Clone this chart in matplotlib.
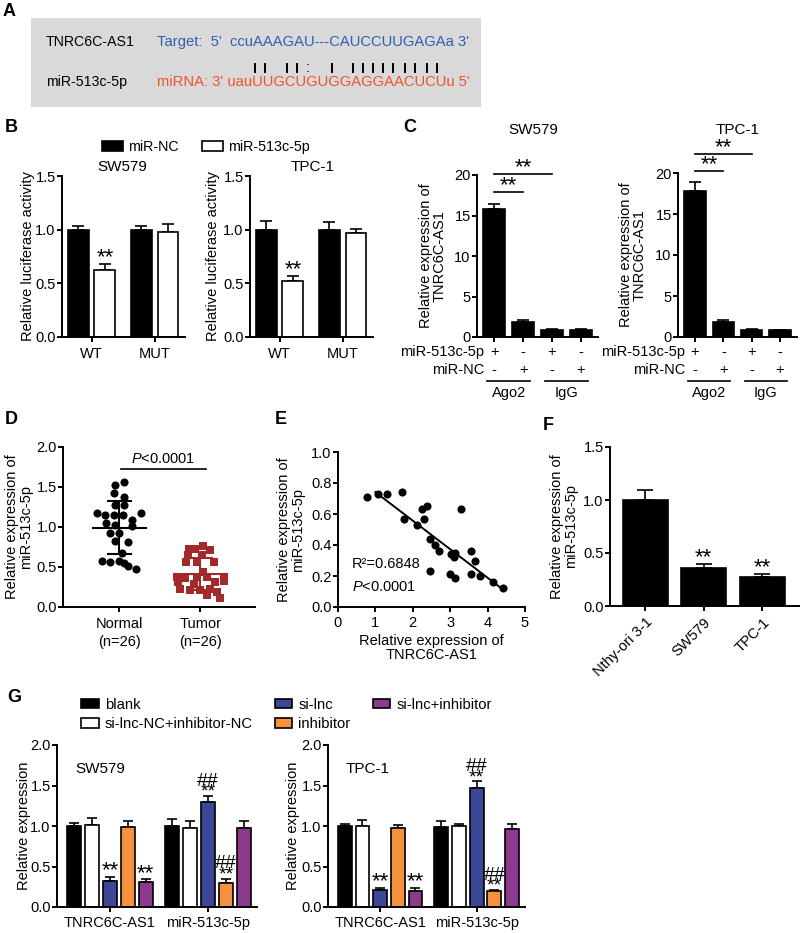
import numpy as np
import matplotlib
matplotlib.use('Agg')
import matplotlib.pyplot as plt
from matplotlib.patches import Patch, Rectangle
from matplotlib.lines import Line2D
import matplotlib.transforms as mtrans

plt.rcParams['font.family'] = ['Liberation Sans', 'DejaVu Sans']
plt.rcParams['font.size'] = 10.5
plt.rcParams['mathtext.fontset'] = 'custom'
plt.rcParams['mathtext.rm'] = 'Liberation Sans'
plt.rcParams['mathtext.it'] = 'Liberation Sans:italic'

# ---------------- data ----------------
# B: luciferase reporter
b_groups = ['WT', 'MUT']
b_sw_nc = [1.0, 1.0]
b_sw_nc_err = [0.03, 0.03]
b_sw_mir = [0.62, 0.98]
b_sw_mir_err = [0.06, 0.07]
b_tpc_nc = [1.0, 1.0]
b_tpc_nc_err = [0.08, 0.07]
b_tpc_mir = [0.52, 0.97]
b_tpc_mir_err = [0.05, 0.04]

# C: RIP assay
c_sw = [15.8, 1.9, 0.9, 0.9]
c_sw_err = [0.6, 0.2, 0.05, 0.05]
c_tpc = [17.8, 1.8, 0.9, 0.85]
c_tpc_err = [1.1, 0.3, 0.05, 0.05]
c_mir513 = ['+', '-', '+', '-']
c_mirnc = ['-', '+', '-', '+']
c_ip = ['Ago2', 'IgG']

# D: tissue expression (jitter offsets)
d_normal = [1.56, 1.52, 1.42, 1.38, 1.28, 1.27, 1.17, 1.15, 1.15, 1.15, 1.18, 1.09, 1.05,
            1.03, 1.01, 0.93, 0.92, 0.81, 0.83, 0.67, 0.58, 0.56, 0.57, 0.55, 0.51, 0.47]
d_normal_dx = [0.05, -0.06, -0.07, 0.05, -0.05, 0.05, -0.28, -0.18, -0.07, 0.04, 0.27, 0.15, -0.17,
               -0.05, 0.15, -0.12, 0.0, 0.11, -0.05, 0.03, -0.22, -0.12, -0.01, 0.05, 0.11, 0.21]
d_tumor = [0.76, 0.72, 0.72, 0.71, 0.65, 0.65, 0.56, 0.56, 0.56, 0.44, 0.375, 0.36, 0.37,
           0.375, 0.375, 0.31, 0.29, 0.31, 0.33, 0.23, 0.21, 0.21, 0.22, 0.19, 0.15, 0.11]
d_tumor_dx = [0.03, -0.06, -0.14, 0.12, -0.15, 0.02, -0.17, -0.04, 0.17, 0.04, -0.29, -0.19, -0.04,
              0.08, 0.29, -0.27, -0.08, 0.19, 0.29, -0.25, -0.12, 0.0, 0.12, 0.21, 0.08, 0.24]
d_labels = ['Normal\n(n=26)', 'Tumor\n(n=26)']

# E: correlation
e_lnc = [0.77, 1.08, 1.31, 1.70, 3.28, 1.76, 2.10, 2.25, 2.38, 2.29, 2.47, 2.59, 2.69,
         3.03, 3.12, 3.09, 3.55, 3.65, 2.47, 2.99, 3.12, 3.56, 3.79, 4.14, 4.41]
e_mir = [0.71, 0.73, 0.73, 0.74, 0.63, 0.57, 0.53, 0.63, 0.65, 0.57, 0.44, 0.40, 0.36,
         0.34, 0.35, 0.32, 0.36, 0.30, 0.23, 0.21, 0.19, 0.21, 0.20, 0.16, 0.12]

# F: cell lines
f_cells = ['Nthy-ori 3-1', 'SW579', 'TPC-1']
f_vals = [1.0, 0.36, 0.27]
f_err = [0.09, 0.04, 0.03]

# G: rescue
g_groups = ['TNRC6C-AS1', 'miR-513c-5p']
g_conds = ['blank', 'si-lnc-NC+inhibitor-NC', 'si-lnc', 'inhibitor', 'si-lnc+inhibitor']
g_colors = ['black', 'white', '#3c4798', '#f5923e', '#8c3a8e']
g_sw = [[1.0, 1.01, 0.32, 0.99, 0.31], [1.0, 0.97, 1.30, 0.30, 0.97]]
g_sw_err = [[0.04, 0.09, 0.05, 0.07, 0.03], [0.09, 0.09, 0.07, 0.05, 0.09]]
g_tpc = [[1.0, 1.0, 0.21, 0.97, 0.20], [0.99, 1.0, 1.47, 0.20, 0.96]]
g_tpc_err = [[0.03, 0.08, 0.02, 0.04, 0.03], [0.07, 0.03, 0.08, 0.01, 0.07]]

# ---------------- helpers ----------------
W, H = 800, 933
fig = plt.figure(figsize=(W / 100, H / 100), dpi=100)


def fx(x):
    return x / W


def fy(y):
    return 1 - y / H


def add_ax(x0, x1, ytop, ybot):
    ax = fig.add_axes([fx(x0), fy(ybot), (x1 - x0) / W, (ybot - ytop) / H])
    for s in ['top', 'right']:
        ax.spines[s].set_visible(False)
    for s in ['left', 'bottom']:
        ax.spines[s].set_linewidth(1.4)
    ax.tick_params(direction='out', length=3.5, width=1.4, labelsize=10.5, pad=1)
    return ax


def ylab(ax, text, xpx):
    # xpx = right edge of the (rotated) label, in pixels
    pos = ax.get_position()
    ax.set_ylabel(text, fontsize=10.5, linespacing=1.0)
    ax.yaxis.set_label_coords((fx(xpx) - pos.x0) / pos.width, 0.5)


def ftext(x, y, s, **kw):
    fig.text(fx(x), fy(y), s, **kw)


def bars(ax, x, vals, errs, width, color, capsize=4):
    ax.bar(x, vals, width, color=color, edgecolor='black', linewidth=1.2, zorder=2)
    ax.errorbar(x, vals, yerr=[np.zeros(len(vals)), errs], fmt='none', ecolor='black',
                elinewidth=1.2, capsize=capsize, capthick=1.2, zorder=1)


def stars(ax, x, y):
    ax.annotate('**', (x, y), xytext=(0, 0.5), textcoords='offset points', ha='center',
                va='baseline', fontsize=16, annotation_clip=False)


def stars_hash(ax, x, y):
    # '##' stacked on top of '**' as one text
    ax.annotate('##\n**', (x, y), xytext=(0, -0.5), textcoords='offset points', ha='center',
                va='baseline', fontsize=14, linespacing=0.55, annotation_clip=False)


# ---------------- A ----------------
ftext(3, 12, 'A', fontsize=13, fontweight='bold', va='center')
fig.add_artist(Rectangle((fx(31), fy(107)), 450 / W, 89 / H, transform=fig.transFigure,
                         facecolor='#d9d9d9', edgecolor='none'))
ftext(46, 42, 'TNRC6C-AS1', va='center', fontsize=10.2)
ftext(46, 82, 'miR-513c-5p', va='center', fontsize=10.2)
ftext(157, 42, "Target:  5'  ccuAAAGAU---CAUCCUUGAGAa 3'", va='center', color='#2e5fb5',
      fontsize=10.6)
ftext(157, 82, "miRNA: 3' uauUUGCUGUGGAGGAACUCUu 5'", va='center', color='#f0532b',
      fontsize=10.6)
pair_x = [255, 265, 287, 297, 332, 353, 363, 373, 383, 393, 405, 415, 427, 437]
for px in pair_x:
    fig.add_artist(Line2D([fx(px), fx(px)], [fy(64), fy(72)], color='black', lw=1.4,
                          transform=fig.transFigure))
ftext(308, 68, ':', ha='center', va='center')

# ---------------- B ----------------
ftext(5, 128, 'B', fontsize=13, fontweight='bold', va='center')
b_handles = [Patch(facecolor='black', edgecolor='black', linewidth=1.2),
             Patch(facecolor='white', edgecolor='black', linewidth=1.2)]
fig.legend(b_handles, ['miR-NC', 'miR-513c-5p'], ncol=2, loc='center left',
           bbox_to_anchor=(fx(102), fy(147)), frameon=False, fontsize=10.3,
           handlelength=1.5, handleheight=0.7, handletextpad=0.35, columnspacing=1.6,
           borderpad=0, borderaxespad=0)

for x0, x1, title, tx, nc, nce, mi, mie, lx in [
        (62, 185, 'SW579', 122, b_sw_nc, b_sw_nc_err, b_sw_mir, b_sw_mir_err, 35),
        (250, 373, 'TPC-1', 313, b_tpc_nc, b_tpc_nc_err, b_tpc_mir, b_tpc_mir_err, 220)]:
    ax = add_ax(x0, x1, 176, 337)
    xb = np.arange(len(b_groups))
    bars(ax, xb - 0.21, nc, nce, 0.33, 'black')
    bars(ax, xb + 0.21, mi, mie, 0.33, 'white')
    ax.set_xlim(-0.47, 1.48)
    ax.set_ylim(0, 1.5)
    ax.set_yticks([0, 0.5, 1.0, 1.5])
    ax.set_yticklabels(['0.0', '0.5', '1.0', '1.5'])
    ax.set_xticks(xb)
    ax.set_xticklabels(b_groups)
    ax.tick_params(axis='x', pad=4)
    stars(ax, 0.21, mi[0] + mie[0])
    ftext(tx, 167, title, ha='center', va='center', fontsize=11)
    ylab(ax, 'Relative luciferase activity', lx)

# ---------------- C ----------------
ftext(403, 128, 'C', fontsize=13, fontweight='bold', va='center')
for x0, x1, ytop, title, tx, vals, errs, lx, br in [
        (477, 598, 175, 'SW579', 533, c_sw, c_sw_err, 447, (17.9, 20.1)),
        (678, 797, 173, 'TPC-1', 738, c_tpc, c_tpc_err, 647, (20.2, 22.3))]:
    ax = add_ax(x0, x1, ytop, 337)
    xc = np.arange(len(vals))
    bars(ax, xc, vals, errs, 0.76, 'black')
    ax.set_xlim(-0.6, 3.6)
    ax.set_ylim(0, 20)
    ax.set_yticks([0, 5, 10, 15, 20])
    ax.set_xticks(xc)
    ax.set_xticklabels([])
    trans = mtrans.blended_transform_factory(ax.transData, fig.transFigure)
    for i in range(len(vals)):
        ax.text(xc[i], fy(352), c_mir513[i], transform=trans, ha='center', va='center')
        ax.text(xc[i], fy(370), c_mirnc[i], transform=trans, ha='center', va='center')
    ax.text(-0.35, fy(352), 'miR-513c-5p', transform=trans, ha='right', va='center')
    ax.text(-0.35, fy(370), 'miR-NC', transform=trans, ha='right', va='center')
    for g, lab in enumerate(c_ip):
        xs = [2 * g - 0.25, 2 * g + 1 + 0.25]
        ax.add_line(Line2D(xs, [fy(381), fy(381)], transform=trans, color='black', lw=1.2,
                           clip_on=False))
        ax.text(2 * g + 0.5, fy(393), lab, transform=trans, ha='center', va='center')
    # significance brackets
    ax.plot([0, 1], [br[0], br[0]], color='black', lw=1.2, clip_on=False)
    stars(ax, 0.5, br[0])
    ax.plot([0, 2], [br[1], br[1]], color='black', lw=1.2, clip_on=False)
    stars(ax, 1.0, br[1])
    ftext(tx, 130, title, ha='center', va='center', fontsize=11)
    ylab(ax, 'Relative expression of\nTNRC6C-AS1', lx)

# ---------------- D ----------------
ftext(5, 420, 'D', fontsize=13, fontweight='bold', va='center')
ax = add_ax(63, 255, 447, 607)
ax.scatter(np.array(d_normal_dx), d_normal, s=34, color='black', zorder=3, linewidths=0)
ax.scatter(1 + np.array(d_tumor_dx), d_tumor, s=40, marker='s', color='#a3292b', zorder=3,
           linewidths=0)
for i, (vals, col) in enumerate([(d_normal, 'black'), (d_tumor, '#a3292b')]):
    m = np.mean(vals)
    sd = np.std(vals, ddof=1)
    ax.plot([i - 0.33, i + 0.33], [m, m], color=col, lw=1.5, zorder=4)
    ax.errorbar(i, m, yerr=sd, fmt='none', ecolor=col, elinewidth=1.5, capsize=9,
                capthick=1.5, zorder=4)
ax.set_xlim(-0.7, 1.68)
ax.set_ylim(0, 2.0)
ax.set_yticks([0, 0.5, 1.0, 1.5, 2.0])
ax.set_yticklabels(['0.0', '0.5', '1.0', '1.5', '2.0'])
ax.set_xticks([0, 1])
ax.set_xticklabels(d_labels, linespacing=1.3)
ax.tick_params(axis='x', pad=4)
ax.plot([0.02, 1.07], [1.73, 1.73], color='black', lw=1.2)
ax.text(0.545, 1.76, '$P$<0.0001', ha='center', va='bottom')
ylab(ax, 'Relative expression of\nmiR-513c-5p', 33)

# ---------------- E ----------------
ftext(275, 420, 'E', fontsize=13, fontweight='bold', va='center')
ax = add_ax(338, 525, 452, 607)
ax.scatter(e_lnc, e_mir, s=34, color='black', zorder=3, linewidths=0)
k, b0 = np.polyfit(e_lnc, e_mir, 1)
xl = np.array([1.0, 4.35])
ax.plot(xl, k * xl + b0, color='black', lw=1.4)
ax.set_xlim(0, 5)
ax.set_ylim(0, 1.0)
ax.set_xticks([0, 1, 2, 3, 4, 5])
ax.set_yticks([0, 0.2, 0.4, 0.6, 0.8, 1.0])
ax.set_yticklabels(['0.0', '0.2', '0.4', '0.6', '0.8', '1.0'])
ax.tick_params(axis='x', pad=3)
ax.text(0.37, 0.28, 'R²=0.6848', va='center')
ax.text(0.37, 0.13, '$P$<0.0001', va='center')
ax.set_xlabel('Relative expression of\nTNRC6C-AS1', fontsize=10.5, linespacing=1.0,
              labelpad=3)
ylab(ax, 'Relative expression of\nmiR-513c-5p', 305)

# ---------------- F ----------------
ftext(543, 425, 'F', fontsize=13, fontweight='bold', va='center')
ax = add_ax(610, 800, 447, 606)
xf = np.arange(len(f_vals))
bars(ax, xf, f_vals, f_err, 0.77, 'black', capsize=6)
for i in [1, 2]:
    stars(ax, xf[i], f_vals[i] + f_err[i])
ax.set_xlim(-0.6, 2.64)
ax.set_ylim(0, 1.5)
ax.set_yticks([0, 0.5, 1.0, 1.5])
ax.set_yticklabels(['0.0', '0.5', '1.0', '1.5'])
ax.set_xticks(xf)
ax.set_xticklabels(f_cells, rotation=45, ha='right', va='top', rotation_mode='anchor')
ax.tick_params(axis='x', pad=3)
ylab(ax, 'Relative expression of\nmiR-513c-5p', 578)

# ---------------- G ----------------
ftext(7, 698, 'G', fontsize=13, fontweight='bold', va='center')
g_handles = [Patch(facecolor=c, edgecolor='black', linewidth=1.2) for c in g_colors]
fig.legend(g_handles, g_conds, ncol=3, loc='upper left', bbox_to_anchor=(fx(81), fy(698)),
           frameon=False, fontsize=10.6, handlelength=1.2, handleheight=0.6,
           handletextpad=0.4, columnspacing=1.5, labelspacing=0.35, borderpad=0,
           borderaxespad=0)

for x0, x1, title, vals, errs, lx in [
        (57, 257, 'SW579', g_sw, g_sw_err, 31),
        (328, 525, 'TPC-1', g_tpc, g_tpc_err, 300)]:
    ax = add_ax(x0, x1, 745, 907)
    for gi in range(len(g_groups)):
        for ci in range(len(g_conds)):
            xx = gi + (ci - 2) * 0.183
            bars(ax, [xx], [vals[gi][ci]], [errs[gi][ci]], 0.143, g_colors[ci], capsize=3.5)
    # significance
    for ci in [2, 4]:
        xx = 0 + (ci - 2) * 0.183
        stars(ax, xx, vals[0][ci] + errs[0][ci])
    for ci in [2, 3]:
        xx = 1 + (ci - 2) * 0.183
        stars_hash(ax, xx, vals[1][ci] + errs[1][ci])
    ax.set_xlim(-0.54, 1.5)
    ax.set_ylim(0, 2.0)
    ax.set_yticks([0, 0.5, 1.0, 1.5, 2.0])
    ax.set_yticklabels(['0.0', '0.5', '1.0', '1.5', '2.0'])
    ax.set_xticks([0, 1])
    ax.set_xticklabels(g_groups)
    ax.tick_params(axis='x', pad=3)
    ax.text(0.09, 0.85, title, transform=ax.transAxes, va='center', fontsize=11)
    ylab(ax, 'Relative expression', lx)

fig.savefig('out.png', dpi=100)
